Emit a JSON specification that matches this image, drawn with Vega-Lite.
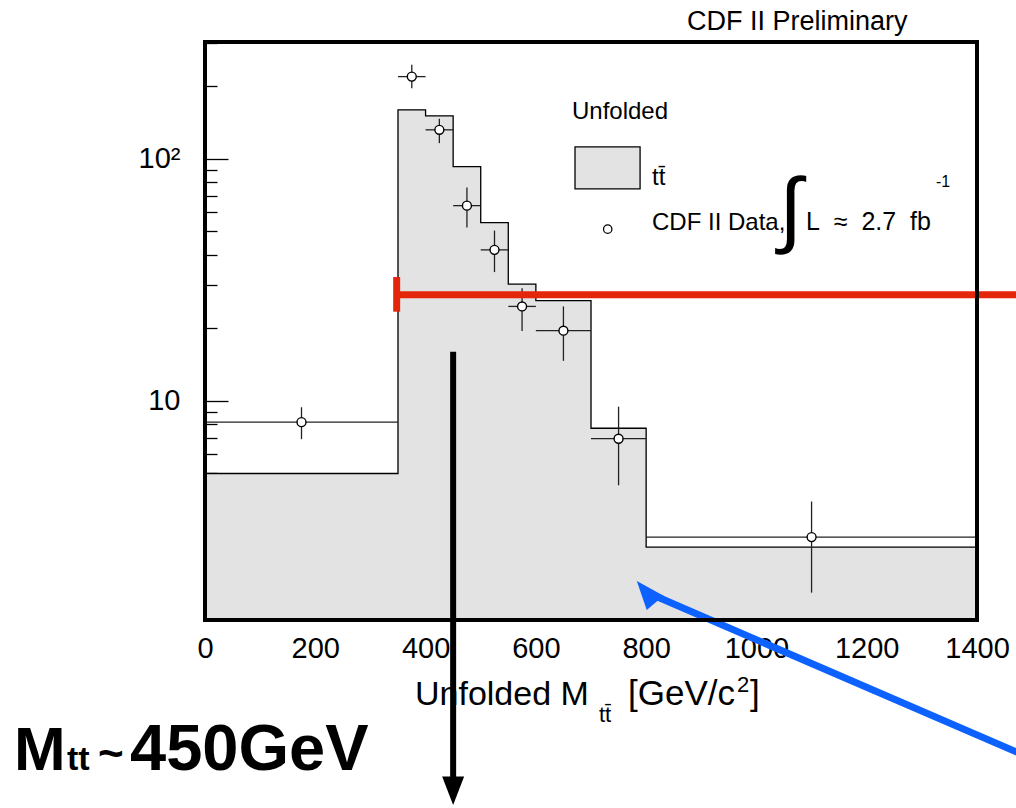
{
  "$schema": "https://vega.github.io/schema/vega-lite/v6.json",
  "width": 772,
  "height": 578,
  "autosize": {"type": "none"},
  "padding": {"left": 205, "top": 42, "right": 39, "bottom": 188},
  "background": "white",
  "config": {
    "view": {"stroke": null},
    "font": "Liberation Sans",
    "axis": {"grid": false, "domain": false, "tickColor": "black", "tickWidth": 1.3, "labelColor": "black", "labelFont": "Liberation Sans", "zindex": 1}
  },
  "datasets": {
    "hist": [
      {"i": 1, "lo": 0, "hi": 350, "v": 5.0},
      {"i": 2, "lo": 350, "hi": 400, "v": 159},
      {"i": 3, "lo": 400, "hi": 450, "v": 150},
      {"i": 4, "lo": 450, "hi": 500, "v": 92.6},
      {"i": 5, "lo": 500, "hi": 550, "v": 54.4},
      {"i": 6, "lo": 550, "hi": 600, "v": 30.3},
      {"i": 7, "lo": 600, "hi": 700, "v": 25.9},
      {"i": 8, "lo": 700, "hi": 800, "v": 7.69},
      {"i": 9, "lo": 800, "hi": 1400, "v": 2.48}
    ],
    "pts": [
      {"m": 175, "v": 8.15, "lo": 0, "hi": 350, "elo": 6.93, "ehi": 9.39},
      {"m": 375, "v": 218, "lo": 350, "hi": 400, "elo": 195, "ehi": 244},
      {"m": 425, "v": 131.4, "lo": 400, "hi": 450, "elo": 115.8, "ehi": 146},
      {"m": 475, "v": 63.9, "lo": 450, "hi": 500, "elo": 51.9, "ehi": 75.9},
      {"m": 525, "v": 41.95, "lo": 500, "hi": 550, "elo": 33.96, "ehi": 50.4},
      {"m": 575, "v": 24.5, "lo": 550, "hi": 600, "elo": 19.4, "ehi": 29.1},
      {"m": 650, "v": 19.45, "lo": 600, "hi": 700, "elo": 14.6, "ehi": 24.5},
      {"m": 750, "v": 6.96, "lo": 700, "hi": 800, "elo": 4.47, "ehi": 9.44},
      {"m": 1100, "v": 2.73, "lo": 800, "hi": 1400, "elo": 1.61, "ehi": 3.83}
    ],
    "notes": [
      {"role": "legend", "x": 665.5, "y": 145.9, "text": "Unfolded"},
      {"role": "legend", "x": 810.6, "y": 77.8, "text": "tt̄"},
      {"role": "legend", "x": 810.6, "y": 50.7, "text": "CDF II Data,"},
      {"role": "legend2", "x": 1089.9, "y": 50.7, "text": "L\u00a0\u00a0≈\u00a0\u00a02.7\u00a0\u00a0fb"},
      {"role": "integral", "x": 1040.9, "y": 47.5, "text": "∫"},
      {"role": "sup", "x": 1325.6, "y": 76.4, "text": "-1"},
      {"role": "prelim", "x": 874.1, "y": 340.3, "text": "CDF II Preliminary"},
      {"role": "xtitle", "x": 380.8, "y": 0.5528, "text": "Unfolded M"},
      {"role": "xtitle2", "x": 767.1, "y": 0.5528, "text": "[GeV/c"},
      {"role": "xtitle2", "x": 988.3, "y": 0.5528, "text": "]"},
      {"role": "xsub", "x": 714.5, "y": 0.4702, "text": "tt̄"},
      {"role": "xsub", "x": 964.8, "y": 0.6255, "text": "2"},
      {"role": "bigM", "x": -346.4, "y": 0.298, "text": "M"},
      {"role": "bigsub", "x": -250.3, "y": 0.298, "text": "tt"},
      {"role": "tilde", "x": -194.0, "y": 0.3035, "text": "~"},
      {"role": "big", "x": -136.0, "y": 0.298, "text": "450GeV"}
    ],
    "lines": [
      {"role": "red", "x": 347.6, "x2": 1500, "y": 27.35, "y2": 27.35},
      {"role": "redcap", "x": 347.6, "x2": 347.6, "y": 32.4, "y2": 23.3},
      {"role": "black", "x": 450, "x2": 450, "y": 15.9, "y2": 0.2445},
      {"role": "blue", "x": 799.7, "x2": 1514, "y": 1.62, "y2": 0.3213}
    ],
    "heads": [
      {"role": "black", "x": 450, "y": 0.2445},
      {"role": "blue", "x": 799.7, "y": 1.62}
    ]
  },
  "resolve": {"axis": {"x": "independent", "y": "independent"}},
  "layer": [
    {
      "data": {"name": "hist"},
      "mark": {"type": "rect", "fill": "#e3e3e3", "stroke": "#e3e3e3", "strokeWidth": 1},
      "encoding": {
        "x": {"field": "lo", "type": "quantitative", "scale": {"domain": [0, 1400], "nice": false, "zero": false},
          "axis": {"orient": "bottom", "values": [0, 200, 400, 600, 800, 1000, 1200, 1400], "format": "d", "tickSize": -17, "labelPadding": 31, "labelFontSize": 29, "labelFlush": false, "labelOverlap": false, "labelBound": false, "title": null}},
        "x2": {"field": "hi"},
        "y": {"field": "v", "type": "quantitative", "scale": {"type": "log", "domain": [1.241, 303], "nice": false},
          "axis": {"orient": "left", "values": [10, 100], "labelExpr": "datum.value >= 100 ? '10²' : '10'", "tickSize": -23, "labelPadding": 48, "labelFontSize": 29, "labelFlush": false, "labelOverlap": false, "labelBound": false, "title": null}},
        "y2": {"datum": 1.241}
      }
    },
    {
      "data": {"name": "hist"},
      "transform": [{"fold": ["lo", "hi"], "as": ["side", "edge"]}],
      "mark": {"type": "line", "color": "black", "strokeWidth": 1.3},
      "encoding": {
        "x": {"field": "edge", "type": "quantitative", "scale": {"domain": [0, 1400], "nice": false, "zero": false},
          "axis": {"orient": "bottom", "values": [0, 50, 100, 150, 200, 250, 300, 350, 400, 450, 500, 550, 600, 650, 700, 750, 800, 850, 900, 950, 1000, 1050, 1100, 1150, 1200, 1250, 1300, 1350, 1400], "tickSize": -8, "labels": false, "title": null}},
        "y": {"field": "v", "type": "quantitative", "scale": {"type": "log", "domain": [1.241, 303], "nice": false},
          "axis": {"orient": "left", "values": [2, 3, 4, 5, 6, 7, 8, 9, 20, 30, 40, 50, 60, 70, 80, 90, 200, 300], "tickSize": -12, "labels": false, "title": null}},
        "order": [{"field": "i", "type": "quantitative"}, {"field": "edge", "type": "quantitative"}]
      }
    },
    {
      "data": {"name": "pts"},
      "mark": {"type": "rule", "color": "#222222", "strokeWidth": 1.3},
      "encoding": {
        "x": {"field": "lo", "type": "quantitative", "scale": {"domain": [0, 1400], "nice": false, "zero": false}, "axis": null},
        "x2": {"field": "hi"},
        "y": {"field": "v", "type": "quantitative", "scale": {"type": "log", "domain": [1.241, 303], "nice": false}, "axis": null}
      }
    },
    {
      "data": {"name": "pts"},
      "mark": {"type": "rule", "color": "#222222", "strokeWidth": 1.3},
      "encoding": {
        "x": {"field": "m", "type": "quantitative", "scale": {"domain": [0, 1400], "nice": false, "zero": false}, "axis": null},
        "y": {"field": "elo", "type": "quantitative", "scale": {"type": "log", "domain": [1.241, 303], "nice": false}, "axis": null},
        "y2": {"field": "ehi"}
      }
    },
    {
      "data": {"name": "pts"},
      "mark": {"type": "point", "shape": "circle", "filled": false, "fill": "white", "fillOpacity": 1, "stroke": "black", "strokeWidth": 1.4, "size": 80, "opacity": 1},
      "encoding": {
        "x": {"field": "m", "type": "quantitative", "scale": {"domain": [0, 1400], "nice": false, "zero": false}, "axis": null},
        "y": {"field": "v", "type": "quantitative", "scale": {"type": "log", "domain": [1.241, 303], "nice": false}, "axis": null}
      }
    },
    {
      "data": {"values": [{"x": 671, "x2": 789, "y": 111.7, "y2": 75.0}]},
      "mark": {"type": "rect", "fill": "#e3e3e3", "stroke": "black", "strokeWidth": 1.3, "clip": false},
      "encoding": {
        "x": {"field": "x", "type": "quantitative", "scale": {"domain": [0, 1400], "nice": false, "zero": false}, "axis": null},
        "x2": {"field": "x2"},
        "y": {"field": "y", "type": "quantitative", "scale": {"type": "log", "domain": [1.241, 303], "nice": false}, "axis": null},
        "y2": {"field": "y2"}
      }
    },
    {
      "data": {"values": [{"x": 730.3, "y": 51.1}]},
      "mark": {"type": "point", "shape": "circle", "filled": false, "fill": "white", "fillOpacity": 1, "stroke": "black", "strokeWidth": 1.3, "size": 70, "opacity": 1},
      "encoding": {
        "x": {"field": "x", "type": "quantitative", "scale": {"domain": [0, 1400], "nice": false, "zero": false}, "axis": null},
        "y": {"field": "y", "type": "quantitative", "scale": {"type": "log", "domain": [1.241, 303], "nice": false}, "axis": null}
      }
    },
    {
      "data": {"name": "notes"},
      "transform": [{"filter": "datum.role == 'legend'"}],
      "mark": {"type": "text", "align": "left", "baseline": "alphabetic", "font": "Liberation Sans", "fontSize": 24, "color": "black", "clip": false},
      "encoding": {
        "x": {"field": "x", "type": "quantitative", "scale": {"domain": [0, 1400], "nice": false, "zero": false}, "axis": null},
        "y": {"field": "y", "type": "quantitative", "scale": {"type": "log", "domain": [1.241, 303], "nice": false}, "axis": null},
        "text": {"field": "text"}
      }
    },
    {
      "data": {"name": "notes"},
      "transform": [{"filter": "datum.role == 'legend2'"}],
      "mark": {"type": "text", "align": "left", "baseline": "alphabetic", "font": "Liberation Sans", "fontSize": 25, "color": "black", "clip": false},
      "encoding": {
        "x": {"field": "x", "type": "quantitative", "scale": {"domain": [0, 1400], "nice": false, "zero": false}, "axis": null},
        "y": {"field": "y", "type": "quantitative", "scale": {"type": "log", "domain": [1.241, 303], "nice": false}, "axis": null},
        "text": {"field": "text"}
      }
    },
    {
      "data": {"name": "notes"},
      "transform": [{"filter": "datum.role == 'integral'"}],
      "mark": {"type": "text", "align": "left", "baseline": "alphabetic", "font": "Liberation Sans", "fontSize": 84, "color": "black", "clip": false},
      "encoding": {
        "x": {"field": "x", "type": "quantitative", "scale": {"domain": [0, 1400], "nice": false, "zero": false}, "axis": null},
        "y": {"field": "y", "type": "quantitative", "scale": {"type": "log", "domain": [1.241, 303], "nice": false}, "axis": null},
        "text": {"field": "text"}
      }
    },
    {
      "data": {"name": "notes"},
      "transform": [{"filter": "datum.role == 'sup'"}],
      "mark": {"type": "text", "align": "left", "baseline": "alphabetic", "font": "Liberation Sans", "fontSize": 16, "color": "black", "clip": false},
      "encoding": {
        "x": {"field": "x", "type": "quantitative", "scale": {"domain": [0, 1400], "nice": false, "zero": false}, "axis": null},
        "y": {"field": "y", "type": "quantitative", "scale": {"type": "log", "domain": [1.241, 303], "nice": false}, "axis": null},
        "text": {"field": "text"}
      }
    },
    {
      "data": {"name": "notes"},
      "transform": [{"filter": "datum.role == 'prelim'"}],
      "mark": {"type": "text", "align": "left", "baseline": "alphabetic", "font": "Liberation Sans", "fontSize": 27, "color": "black", "clip": false},
      "encoding": {
        "x": {"field": "x", "type": "quantitative", "scale": {"domain": [0, 1400], "nice": false, "zero": false}, "axis": null},
        "y": {"field": "y", "type": "quantitative", "scale": {"type": "log", "domain": [1.241, 303], "nice": false}, "axis": null},
        "text": {"field": "text"}
      }
    },
    {
      "data": {"name": "notes"},
      "transform": [{"filter": "datum.role == 'xtitle'"}],
      "mark": {"type": "text", "align": "left", "baseline": "alphabetic", "font": "Liberation Sans", "fontSize": 34, "color": "black", "clip": false},
      "encoding": {
        "x": {"field": "x", "type": "quantitative", "scale": {"domain": [0, 1400], "nice": false, "zero": false}, "axis": null},
        "y": {"field": "y", "type": "quantitative", "scale": {"type": "log", "domain": [1.241, 303], "nice": false}, "axis": null},
        "text": {"field": "text"}
      }
    },
    {
      "data": {"name": "notes"},
      "transform": [{"filter": "datum.role == 'xtitle2'"}],
      "mark": {"type": "text", "align": "left", "baseline": "alphabetic", "font": "Liberation Sans", "fontSize": 35, "color": "black", "clip": false},
      "encoding": {
        "x": {"field": "x", "type": "quantitative", "scale": {"domain": [0, 1400], "nice": false, "zero": false}, "axis": null},
        "y": {"field": "y", "type": "quantitative", "scale": {"type": "log", "domain": [1.241, 303], "nice": false}, "axis": null},
        "text": {"field": "text"}
      }
    },
    {
      "data": {"name": "notes"},
      "transform": [{"filter": "datum.role == 'xsub'"}],
      "mark": {"type": "text", "align": "left", "baseline": "alphabetic", "font": "Liberation Sans", "fontSize": 22, "color": "black", "clip": false},
      "encoding": {
        "x": {"field": "x", "type": "quantitative", "scale": {"domain": [0, 1400], "nice": false, "zero": false}, "axis": null},
        "y": {"field": "y", "type": "quantitative", "scale": {"type": "log", "domain": [1.241, 303], "nice": false}, "axis": null},
        "text": {"field": "text"}
      }
    },
    {
      "data": {"name": "lines"},
      "transform": [{"filter": "datum.role == 'red' || datum.role == 'redcap'"}],
      "mark": {"type": "rule", "color": "#e4260a", "strokeWidth": 7, "strokeCap": "butt", "clip": false},
      "encoding": {
        "x": {"field": "x", "type": "quantitative", "scale": {"domain": [0, 1400], "nice": false, "zero": false}, "axis": null},
        "x2": {"field": "x2"},
        "y": {"field": "y", "type": "quantitative", "scale": {"type": "log", "domain": [1.241, 303], "nice": false}, "axis": null},
        "y2": {"field": "y2"}
      }
    },
    {
      "data": {"name": "lines"},
      "transform": [{"filter": "datum.role == 'black'"}],
      "mark": {"type": "rule", "color": "black", "strokeWidth": 6, "strokeCap": "butt", "clip": false},
      "encoding": {
        "x": {"field": "x", "type": "quantitative", "scale": {"domain": [0, 1400], "nice": false, "zero": false}, "axis": null},
        "x2": {"field": "x2"},
        "y": {"field": "y", "type": "quantitative", "scale": {"type": "log", "domain": [1.241, 303], "nice": false}, "axis": null},
        "y2": {"field": "y2"}
      }
    },
    {
      "data": {"name": "lines"},
      "transform": [{"filter": "datum.role == 'blue'"}],
      "mark": {"type": "rule", "color": "#0d62ff", "strokeWidth": 7, "strokeCap": "butt", "clip": false},
      "encoding": {
        "x": {"field": "x", "type": "quantitative", "scale": {"domain": [0, 1400], "nice": false, "zero": false}, "axis": null},
        "x2": {"field": "x2"},
        "y": {"field": "y", "type": "quantitative", "scale": {"type": "log", "domain": [1.241, 303], "nice": false}, "axis": null},
        "y2": {"field": "y2"}
      }
    },
    {
      "data": {"name": "heads"},
      "transform": [{"filter": "datum.role == 'black'"}],
      "mark": {"type": "point", "shape": "M-1,-1.3L1,-1.3L0,1.3Z", "filled": true, "color": "black", "size": 484, "opacity": 1, "clip": false},
      "encoding": {
        "x": {"field": "x", "type": "quantitative", "scale": {"domain": [0, 1400], "nice": false, "zero": false}, "axis": null},
        "y": {"field": "y", "type": "quantitative", "scale": {"type": "log", "domain": [1.241, 303], "nice": false}, "axis": null}
      }
    },
    {
      "data": {"name": "heads"},
      "transform": [{"filter": "datum.role == 'blue'"}],
      "mark": {"type": "point", "shape": "M0,-1.3L1,1.3L-1,1.3Z", "filled": true, "color": "#0d62ff", "size": 484, "angle": -40, "opacity": 1, "clip": false},
      "encoding": {
        "x": {"field": "x", "type": "quantitative", "scale": {"domain": [0, 1400], "nice": false, "zero": false}, "axis": null},
        "y": {"field": "y", "type": "quantitative", "scale": {"type": "log", "domain": [1.241, 303], "nice": false}, "axis": null}
      }
    },
    {
      "data": {"name": "notes"},
      "transform": [{"filter": "datum.role == 'bigM'"}],
      "mark": {"type": "text", "align": "left", "baseline": "alphabetic", "font": "Liberation Sans", "fontWeight": "bold", "fontSize": 62, "color": "black", "clip": false},
      "encoding": {
        "x": {"field": "x", "type": "quantitative", "scale": {"domain": [0, 1400], "nice": false, "zero": false}, "axis": null},
        "y": {"field": "y", "type": "quantitative", "scale": {"type": "log", "domain": [1.241, 303], "nice": false}, "axis": null},
        "text": {"field": "text"}
      }
    },
    {
      "data": {"name": "notes"},
      "transform": [{"filter": "datum.role == 'bigsub'"}],
      "mark": {"type": "text", "align": "left", "baseline": "alphabetic", "font": "Liberation Sans", "fontWeight": "bold", "fontSize": 34, "color": "black", "clip": false},
      "encoding": {
        "x": {"field": "x", "type": "quantitative", "scale": {"domain": [0, 1400], "nice": false, "zero": false}, "axis": null},
        "y": {"field": "y", "type": "quantitative", "scale": {"type": "log", "domain": [1.241, 303], "nice": false}, "axis": null},
        "text": {"field": "text"}
      }
    },
    {
      "data": {"name": "notes"},
      "transform": [{"filter": "datum.role == 'tilde'"}],
      "mark": {"type": "text", "align": "left", "baseline": "alphabetic", "font": "Liberation Sans", "fontWeight": "bold", "fontSize": 44, "color": "black", "clip": false},
      "encoding": {
        "x": {"field": "x", "type": "quantitative", "scale": {"domain": [0, 1400], "nice": false, "zero": false}, "axis": null},
        "y": {"field": "y", "type": "quantitative", "scale": {"type": "log", "domain": [1.241, 303], "nice": false}, "axis": null},
        "text": {"field": "text"}
      }
    },
    {
      "data": {"name": "notes"},
      "transform": [{"filter": "datum.role == 'big'"}],
      "mark": {"type": "text", "align": "left", "baseline": "alphabetic", "font": "Liberation Sans", "fontWeight": "bold", "fontSize": 65, "color": "black", "clip": false},
      "encoding": {
        "x": {"field": "x", "type": "quantitative", "scale": {"domain": [0, 1400], "nice": false, "zero": false}, "axis": null},
        "y": {"field": "y", "type": "quantitative", "scale": {"type": "log", "domain": [1.241, 303], "nice": false}, "axis": null},
        "text": {"field": "text"}
      }
    },
    {
      "data": {"values": [{"x": 0, "x2": 1400, "y": 1.241, "y2": 303}]},
      "mark": {"type": "rect", "filled": false, "color": "black", "strokeWidth": 4, "opacity": 1},
      "encoding": {
        "x": {"field": "x", "type": "quantitative", "scale": {"domain": [0, 1400], "nice": false, "zero": false}, "axis": null},
        "x2": {"field": "x2"},
        "y": {"field": "y", "type": "quantitative", "scale": {"type": "log", "domain": [1.241, 303], "nice": false}, "axis": null},
        "y2": {"field": "y2"}
      }
    }
  ]
}
